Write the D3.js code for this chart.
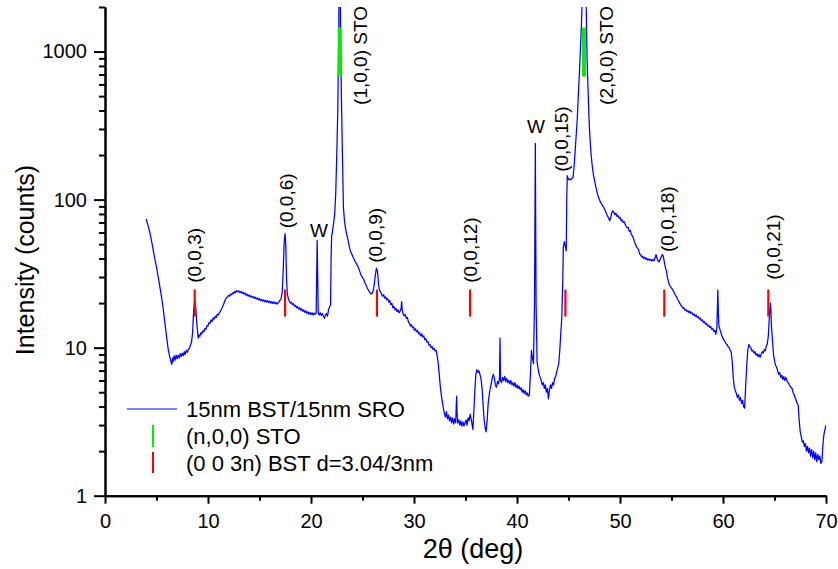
<!DOCTYPE html>
<html>
<head>
<meta charset="utf-8">
<script src="https://cdn.jsdelivr.net/npm/d3@7"></script>
<style>
body { margin: 0; background: #fff; }
svg text { font-family: "Liberation Sans", Arial, sans-serif; fill: #000; }
.axis path, .axis line { stroke: #000; stroke-width: 2; }
</style>
</head>
<body>
<div id="chart"></div>
<script>
//size of the svg
var width = 838;
var height = 569;

//plot box edges in pixels
var margin = {top: 7, right: 12, bottom: 73, left: 105};

//axis ranges and ticks
var xDomain = [0, 70];
var yDomain = [1, 2000];
var xTicks = [0, 10, 20, 30, 40, 50, 60, 70];
var xMinorTicks = [5, 15, 25, 35, 45, 55, 65];
var yTicks = [1, 10, 100, 1000];
var yMinorTicks = [2, 3, 4, 5, 6, 7, 8, 9, 20, 30, 40, 50, 60, 70, 80, 90,
                   200, 300, 400, 500, 600, 700, 800, 900, 2000];

//reference peak positions (2theta) and the level their markers sit at
var stoPeaks = [22.79, 46.5];
var stoLevel = 1000;
var bstPeaks = [8.71, 17.48, 26.4, 35.44, 44.7, 54.3, 64.4];
var bstLevel = 20;

//peak labels: text, 2theta of label centre, counts where the text starts
var peakLabels = [
  ["(0,0,3)", 8.64, 27.4],
  ["(0,0,6)", 17.57, 64],
  ["(1,0,0) STO", 24.76, 436],
  ["(0,0,9)", 26.2, 37.4],
  ["(0,0,12)", 35.5, 27.4],
  ["(0,0,15)", 44.27, 154],
  ["(2,0,0) STO", 48.7, 436],
  ["(0,0,18)", 54.56, 44.3],
  ["(0,0,21)", 64.85, 28.7]
];
//tungsten lines, upright labels
var wLabels = [[20.78, 55.8], [41.84, 282]];

//legend texts
var legendNames = ["15nm BST/15nm SRO", "(n,0,0) STO", "(0 0 3n) BST d=3.04/3nm"];

var scan = [
  [4.0,74],[4.2,66],[4.4,58],[4.6,49],[4.8,41],[5.0,35],[5.2,29],[5.4,24],[5.6,19.5],
  [5.8,15],[6.0,11.5],[6.15,9.6],[6.3,8.6],[6.4,8.1],[6.47,7.7],[6.55,8.5],[6.6,8.0],
  [6.7,8.8],[6.8,8.2],[6.9,8.9],[7.0,8.4],[7.1,8.9],[7.2,8.5],[7.3,9.1],[7.4,8.7],
  [7.5,9.2],[7.6,8.8],[7.7,9.4],[7.8,9.0],[7.9,9.6],[8.0,9.3],[8.1,9.8],[8.2,9.9],
  [8.3,10.4],[8.4,10.9],[8.5,12.5],[8.6,17.5],[8.7,20.5],[8.8,19],[8.9,15],[9.0,12.5],
  [9.05,11.6],[9.1,12.2],[9.2,11.9],[9.3,12.6],[9.4,12.4],[9.5,13.0],[9.6,12.8],
  [9.7,13.5],[9.8,13.3],[9.9,14.1],[10.0,14.0],[10.1,14.8],[10.2,14.6],[10.3,15.4],
  [10.4,15.0],[10.5,15.9],[10.6,15.6],[10.7,16.3],[10.8,16.0],[10.9,16.8],[11.0,16.6],
  [11.1,17.2],[11.2,17.6],[11.3,18.2],[11.4,18.8],[11.5,19.5],[11.6,20.4],[11.7,21.2],
  [11.8,21.8],[11.9,22.0],[12.0,22.6],[12.1,22.3],[12.2,23.0],[12.3,22.8],[12.4,23.5],
  [12.5,23.2],[12.6,24.0],[12.7,23.6],[12.8,24.3],[12.9,23.8],[13.0,24.2],[13.1,23.5],
  [13.2,24.0],[13.3,23.3],[13.4,23.7],[13.5,23.0],[13.6,23.4],[13.7,22.6],[13.8,23.0],
  [13.9,22.3],[14.0,22.7],[14.1,22.0],[14.2,22.4],[14.3,21.8],[14.4,22.1],[14.5,21.5],
  [14.6,21.9],[14.7,21.3],[14.8,21.7],[14.9,21.0],[15.0,21.4],[15.1,20.8],[15.2,21.2],
  [15.3,20.6],[15.4,21.0],[15.5,20.4],[15.6,20.9],[15.7,20.3],[15.8,20.8],[15.9,20.2],
  [16.0,20.6],[16.1,20.0],[16.2,20.5],[16.3,19.9],[16.4,20.4],[16.5,19.8],[16.6,20.2],
  [16.7,19.7],[16.8,20.0],[16.9,20.5],[17.0,20.9],[17.1,21.5],[17.2,23.5],[17.3,33],
  [17.4,52],[17.48,59],[17.55,50],[17.62,30],[17.7,23],[17.8,21.5],[17.9,20.6],
  [18.0,20.0],[18.1,20.3],[18.2,19.5],[18.3,19.8],[18.4,19.0],[18.5,19.3],[18.6,18.6],
  [18.7,18.9],[18.8,18.2],[18.9,18.6],[19.0,17.9],[19.1,18.3],[19.2,17.6],[19.3,18.0],
  [19.4,17.3],[19.5,17.7],[19.6,17.0],[19.7,17.5],[19.8,16.8],[19.9,17.3],[20.0,16.7],
  [20.1,17.2],[20.2,16.6],[20.3,17.1],[20.4,16.8],[20.5,17.0],[20.55,30],[20.6,53],
  [20.65,30],[20.7,17.2],[20.8,16.6],[20.9,17.2],[21.0,16.5],[21.1,17.0],[21.2,16.4],
  [21.3,15.8],[21.4,16.6],[21.5,17.0],[21.6,16.3],[21.7,18.0],[21.8,18.8],[21.9,19.5],
  [21.95,40],[22.0,56],[22.1,62],[22.2,70],[22.3,80],[22.4,110],[22.5,200],[22.6,400],
  [22.7,1500],[22.78,40000],[22.86,1500],[22.95,500],[23.05,200],[23.15,88],[23.25,72],
  [23.35,64],[23.45,59],[23.55,55],[23.65,51],[23.75,47],[23.85,44.5],[23.95,43],
  [24.05,41.5],[24.15,40],[24.25,38.5],[24.35,37.5],[24.45,36.5],[24.55,35.5],
  [24.65,34],[24.75,32.5],[24.85,31],[24.95,30.2],[25.05,29.3],[25.15,28.5],[25.25,27.2],
  [25.35,26.4],[25.45,25.4],[25.55,24.6],[25.65,24.0],[25.75,23.4],[25.85,23.0],
  [25.95,23.4],[26.05,24.5],[26.15,27],[26.25,31],[26.35,34.5],[26.45,33],[26.55,27],
  [26.65,24.5],[26.75,23.8],[26.85,23.0],[26.95,22.3],[27.05,22.8],[27.15,21.6],
  [27.25,22.0],[27.35,21.0],[27.45,21.4],[27.55,20.3],[27.65,20.8],[27.75,19.5],
  [27.85,19.9],[27.95,18.6],[28.05,19.0],[28.15,18.0],[28.25,18.4],[28.35,17.5],
  [28.45,18.0],[28.55,17.2],[28.65,17.6],[28.75,18.5],[28.8,20.5],[28.85,18.0],
  [28.95,16.8],[29.05,16.4],[29.15,16.8],[29.25,15.8],[29.35,16.0],[29.45,15.0],
  [29.55,14.6],[29.65,14.0],[29.75,14.3],[29.85,13.6],[29.95,13.8],[30.05,13.1],
  [30.15,13.4],[30.25,12.8],[30.35,13.0],[30.45,12.4],[30.55,12.6],[30.65,12.0],
  [30.75,12.4],[30.85,11.8],[30.95,12.0],[31.05,11.3],[31.15,11.5],[31.25,10.9],
  [31.35,11.0],[31.45,10.4],[31.55,10.5],[31.65,10.0],[31.75,10.2],[31.85,9.7],
  [31.95,9.9],[32.05,9.5],[32.15,9.6],[32.25,8.8],[32.35,7.9],[32.45,6.6],[32.55,5.5],
  [32.65,4.8],[32.75,4.3],[32.85,3.9],[32.95,3.6],[33.05,3.4],[33.15,3.7],[33.25,3.3],
  [33.35,3.5],[33.45,3.2],[33.55,3.4],[33.65,3.1],[33.75,3.35],[33.85,3.05],[33.95,3.3],
  [34.05,3.1],[34.1,4.0],[34.14,4.7],[34.18,3.6],[34.25,3.1],[34.35,3.25],[34.45,3.0],
  [34.55,3.2],[34.65,2.95],[34.75,3.15],[34.85,2.95],[34.95,3.1],[35.05,3.25],
  [35.15,3.0],[35.25,3.35],[35.35,3.2],[35.45,3.55],[35.55,3.3],[35.65,3.0],[35.72,2.8],
  [35.8,3.6],[35.9,5.0],[36.0,6.6],[36.1,7.1],[36.2,6.8],[36.3,7.0],[36.4,6.6],
  [36.5,6.2],[36.6,5.4],[36.7,4.2],[36.8,3.3],[36.9,2.9],[37.0,2.7],[37.1,3.2],
  [37.2,4.2],[37.3,4.8],[37.4,5.3],[37.5,5.7],[37.6,6.3],[37.7,6.6],[37.8,6.2],
  [37.9,5.6],[38.0,5.4],[38.1,5.9],[38.2,5.7],[38.3,6.2],[38.35,11.6],[38.4,6.0],
  [38.5,5.8],[38.6,6.3],[38.7,6.0],[38.8,6.4],[38.9,5.9],[39.0,6.2],[39.1,5.8],
  [39.2,6.0],[39.3,5.7],[39.4,6.0],[39.5,5.6],[39.6,5.8],[39.7,5.5],[39.8,5.8],
  [39.9,5.4],[40.0,5.6],[40.1,5.3],[40.2,5.5],[40.3,5.2],[40.4,5.35],[40.5,5.0],
  [40.6,5.2],[40.7,4.9],[40.8,5.1],[40.9,4.8],[41.0,4.95],[41.1,4.7],[41.2,4.8],
  [41.3,6.5],[41.4,9.6],[41.5,8.5],[41.6,7.8],[41.7,20],[41.78,240],[41.85,20],
  [41.95,8.0],[42.05,7.2],[42.15,6.6],[42.25,6.3],[42.35,6.0],[42.45,5.6],[42.55,5.8],
  [42.65,5.3],[42.75,5.6],[42.85,5.0],[42.95,5.3],[43.05,4.5],[43.15,5.2],[43.25,5.6],
  [43.35,5.3],[43.45,5.8],[43.55,5.6],[43.65,6.2],[43.75,6.4],[43.85,6.8],[43.95,7.3],
  [44.05,7.8],[44.15,9.5],[44.25,12.5],[44.35,16],[44.45,30],[44.5,48],[44.6,52],
  [44.7,48],[44.78,45],[44.83,100],[44.88,145],[44.95,140],[45.05,136],[45.15,138],
  [45.25,136],[45.35,140],[45.45,142],[45.55,170],[45.65,215],[45.75,275],[45.85,350],
  [45.95,500],[46.05,700],[46.15,1000],[46.25,1500],[46.35,2500],[46.5,40000],
  [46.7,2500],[46.8,900],[46.9,550],[47.0,340],[47.1,250],[47.2,200],[47.3,170],
  [47.4,150],[47.5,138],[47.6,127],[47.7,118],[47.8,110],[47.9,104],[48.0,100],
  [48.1,96],[48.2,94],[48.3,91],[48.4,89],[48.5,86],[48.6,83],[48.7,80],[48.8,77],
  [48.9,75],[49.0,72],[49.1,76],[49.2,81],[49.3,84],[49.4,82],[49.5,79],[49.6,81],
  [49.7,77],[49.8,78],[49.9,75],[50.0,76],[50.1,72],[50.2,73],[50.3,70],[50.4,71],
  [50.5,68],[50.6,66],[50.7,64.5],[50.8,65],[50.9,61],[51.0,62],[51.1,58],[51.2,57],
  [51.3,55],[51.4,52],[51.5,50],[51.6,48],[51.7,47],[51.8,46],[51.9,43],[52.0,42.5],
  [52.1,41],[52.2,41.5],[52.3,40],[52.4,40.8],[52.5,39.5],[52.6,40.2],[52.7,39.0],
  [52.8,39.8],[52.9,38.8],[53.0,39.5],[53.1,38.5],[53.2,39.4],[53.3,38.6],[53.4,40.5],
  [53.5,42.5],[53.6,40],[53.7,38.5],[53.8,38.0],[53.9,39.5],[54.0,41],[54.1,42.5],
  [54.2,41.5],[54.3,38],[54.4,35],[54.5,33],[54.6,30],[54.7,28],[54.8,26.5],[54.9,25.8],
  [55.0,25.2],[55.1,24.8],[55.2,24.0],[55.3,23.2],[55.4,22.5],[55.5,22.0],[55.6,21.2],
  [55.7,20.6],[55.8,20.0],[55.9,19.4],[56.0,19.0],[56.1,18.5],[56.2,18.6],[56.3,17.9],
  [56.4,18.1],[56.5,17.5],[56.6,17.8],[56.7,17.2],[56.8,17.6],[56.9,17.0],[57.0,17.2],
  [57.1,16.6],[57.2,16.9],[57.3,16.3],[57.4,16.6],[57.5,16.0],[57.6,16.2],[57.7,15.6],
  [57.8,15.8],[57.9,15.2],[58.0,15.4],[58.1,14.8],[58.2,15.0],[58.3,14.4],[58.4,14.6],
  [58.5,14.0],[58.6,14.2],[58.7,13.7],[58.8,13.9],[58.9,13.3],[59.0,13.5],[59.1,12.9],
  [59.2,13.1],[59.3,12.3],[59.4,13.5],[59.45,18],[59.5,24.5],[59.55,17],[59.6,14.0],
  [59.7,13.3],[59.8,12.6],[59.9,12.0],[60.0,11.6],[60.1,11.2],[60.2,11.0],[60.3,10.6],
  [60.4,10.5],[60.5,10.1],[60.6,10.0],[60.7,9.6],[60.8,9.3],[60.9,8.0],[61.0,6.2],
  [61.1,5.4],[61.2,5.1],[61.3,4.9],[61.4,4.6],[61.5,4.8],[61.6,4.4],[61.7,4.6],
  [61.8,4.2],[61.9,4.4],[62.0,4.0],[62.1,3.9],[62.2,5.5],[62.3,7.5],[62.4,9.5],
  [62.5,10.5],[62.6,10.2],[62.7,10.0],[62.8,9.5],[62.9,9.6],[63.0,9.2],[63.1,9.4],
  [63.2,8.9],[63.3,9.1],[63.4,8.7],[63.5,9.0],[63.6,8.6],[63.7,9.0],[63.8,9.4],
  [63.9,9.2],[64.0,9.7],[64.1,9.5],[64.2,10.2],[64.3,10.6],[64.4,12],[64.5,16],
  [64.6,20],[64.65,18],[64.7,14],[64.8,11.3],[64.9,9.0],[65.0,8.2],[65.1,7.6],
  [65.2,7.4],[65.3,7.0],[65.4,6.6],[65.5,6.8],[65.6,6.3],[65.7,6.5],[65.8,6.1],
  [65.9,6.4],[66.0,6.0],[66.1,6.3],[66.2,6.0],[66.3,5.8],[66.4,5.7],[66.5,5.5],
  [66.6,5.4],[66.7,5.3],[66.8,5.0],[66.9,4.8],[67.0,4.6],[67.1,4.4],[67.2,4.2],
  [67.3,4.1],[67.4,3.2],[67.5,2.7],[67.6,2.5],[67.7,2.3],[67.8,2.35],[67.9,2.15],
  [68.0,2.25],[68.1,2.0],[68.2,2.15],[68.3,1.95],[68.4,2.1],[68.5,1.85],[68.6,2.05],
  [68.7,1.8],[68.8,2.0],[68.9,1.75],[69.0,1.95],[69.1,1.7],[69.2,1.9],[69.3,1.75],
  [69.4,1.85],[69.5,1.65],[69.6,1.7],[69.7,2.2],[69.8,2.6],[69.9,2.8],[70.0,3.0]
];

//make the svg
var svg = d3.select("#chart")
            .append("svg")
            .attr("width", width)
            .attr("height", height);

//scales
var xScale = d3.scaleLinear()
               .domain(xDomain)
               .range([margin.left, width - margin.right]);
var yScale = d3.scaleLog()
               .domain(yDomain)
               .range([height - margin.bottom - 0.3, margin.top]);

//clip so the big peaks stop at the top of the plot
svg.append("clipPath")
   .attr("id", "plotClip")
   .append("rect")
   .attr("x", xScale(xDomain[0]))
   .attr("y", yScale(yDomain[1]))
   .attr("width", xScale(xDomain[1]) - xScale(xDomain[0]))
   .attr("height", yScale(yDomain[0]) - yScale(yDomain[1]));

//the scan line
var lineGen = d3.line()
                .x(function(d) { return xScale(d[0]); })
                .y(function(d) { return yScale(d[1]); });

svg.append("path")
   .datum(scan)
   .attr("clip-path", "url(#plotClip)")
   .attr("d", lineGen)
   .attr("fill", "none")
   .attr("stroke", "#0000ff")
   .attr("stroke-width", 1.25)
   .attr("stroke-linejoin", "round");

//STO markers (green) and BST markers (red)
svg.selectAll(".sto")
   .data(stoPeaks)
   .enter()
   .append("line")
   .attr("x1", function(d) { return xScale(d); })
   .attr("x2", function(d) { return xScale(d); })
   .attr("y1", yScale(stoLevel) - 24)
   .attr("y2", yScale(stoLevel) + 25)
   .attr("stroke", "#00ee00")
   .attr("stroke-width", 4);

svg.selectAll(".bst")
   .data(bstPeaks)
   .enter()
   .append("line")
   .attr("x1", function(d) { return xScale(d); })
   .attr("x2", function(d) { return xScale(d); })
   .attr("y1", yScale(bstLevel) - 13.5)
   .attr("y2", yScale(bstLevel) + 13.5)
   .attr("stroke", "#ff0000")
   .attr("stroke-width", 2.2);

//rotated peak labels
svg.selectAll(".peakLabel")
   .data(peakLabels)
   .enter()
   .append("text")
   .attr("transform", function(d) {
     return "translate(" + xScale(d[1]) + "," + yScale(d[2]) + ") rotate(-90)";
   })
   .attr("dy", "0.36em")
   .style("font-size", "19px")
   .text(function(d) { return d[0]; });

//W labels
svg.selectAll(".wLabel")
   .data(wLabels)
   .enter()
   .append("text")
   .attr("x", function(d) { return xScale(d[0]); })
   .attr("y", function(d) { return yScale(d[1]); })
   .attr("text-anchor", "middle")
   .style("font-size", "19px")
   .text("W");

//x axis
var xAxis = svg.append("g")
   .attr("class", "axis")
   .attr("transform", "translate(0," + yScale(yDomain[0]) + ")")
   .call(d3.axisBottom(xScale)
           .tickValues(xTicks)
           .tickSize(8)
           .tickSizeOuter(0)
           .tickPadding(10));
xAxis.selectAll("text").style("font-size", "20px");

svg.append("g")
   .attr("class", "axis")
   .attr("transform", "translate(0," + yScale(yDomain[0]) + ")")
   .call(d3.axisBottom(xScale)
           .tickValues(xMinorTicks)
           .tickSize(5)
           .tickSizeOuter(0)
           .tickFormat(""));

//y axis
var yAxis = svg.append("g")
   .attr("class", "axis")
   .attr("transform", "translate(" + xScale(xDomain[0]) + ",0)")
   .call(d3.axisLeft(yScale)
           .tickValues(yTicks)
           .tickSize(11)
           .tickSizeOuter(0)
           .tickPadding(7)
           .tickFormat(d3.format("d")));
yAxis.selectAll("text").style("font-size", "20px");

svg.append("g")
   .attr("class", "axis")
   .attr("transform", "translate(" + xScale(xDomain[0]) + ",0)")
   .call(d3.axisLeft(yScale)
           .tickValues(yMinorTicks)
           .tickSize(6)
           .tickSizeOuter(0)
           .tickFormat(""));

//axis titles
svg.append("text")
   .attr("x", 473)
   .attr("y", 558)
   .attr("text-anchor", "middle")
   .style("font-size", "27px")
   .text("2\u03b8 (deg)");

svg.append("text")
   .attr("transform", "translate(34,260) rotate(-90)")
   .attr("text-anchor", "middle")
   .style("font-size", "25px")
   .text("Intensity (counts)");

//legend
var legend = svg.append("g").attr("transform", "translate(127,409)");
legend.append("line")
      .attr("x1", 0).attr("x2", 50)
      .attr("y1", 0).attr("y2", 0)
      .attr("stroke", "#0000ff")
      .attr("stroke-width", 1.2);
legend.append("line")
      .attr("x1", 26).attr("x2", 26)
      .attr("y1", 16).attr("y2", 38)
      .attr("stroke", "#00ee00")
      .attr("stroke-width", 2);
legend.append("line")
      .attr("x1", 26).attr("x2", 26)
      .attr("y1", 43).attr("y2", 64)
      .attr("stroke", "#ff0000")
      .attr("stroke-width", 2);
legend.selectAll(".legendText")
      .data(legendNames)
      .enter()
      .append("text")
      .attr("x", 59)
      .attr("y", function(d, i) { return i * 27; })
      .attr("dy", "0.36em")
      .style("font-size", "22px")
      .text(function(d) { return d; });
</script>
</body>
</html>
